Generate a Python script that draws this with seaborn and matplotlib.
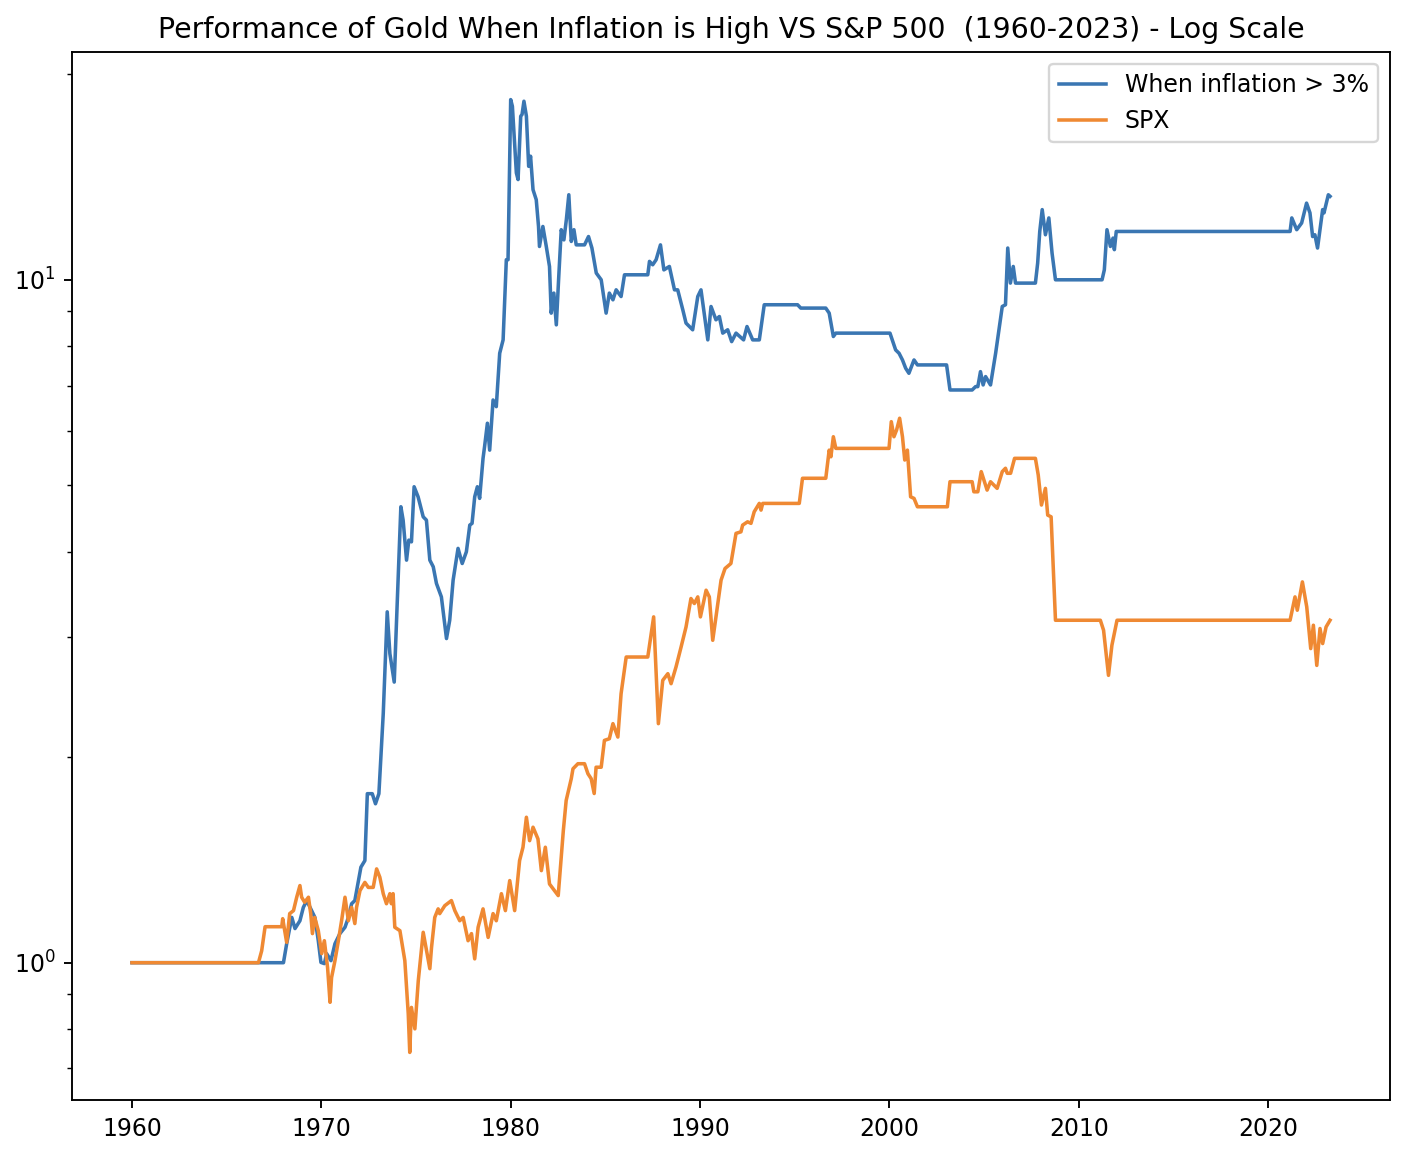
import pandas as pd
import seaborn as sns
import matplotlib.pyplot as plt

# values (year as decimal, growth of 1 unit)
gold_years = [1960.00, 1968.00, 1968.17, 1968.44, 1968.61, 1968.87, 1969.05, 1969.23, 1969.49, 1969.66,
              1969.84, 1969.98, 1970.16, 1970.28, 1970.51, 1970.72, 1970.98, 1971.25, 1971.43, 1971.60,
              1971.77, 1972.09, 1972.30, 1972.43, 1972.69, 1972.86, 1973.04, 1973.27, 1973.48, 1973.62,
              1973.85, 1974.20, 1974.32, 1974.50, 1974.62, 1974.76, 1974.90, 1975.11, 1975.38, 1975.55,
              1975.73, 1975.91, 1976.08, 1976.34, 1976.61, 1976.78, 1976.96, 1977.22, 1977.44, 1977.66,
              1977.84, 1977.96, 1978.10, 1978.24, 1978.36, 1978.54, 1978.62, 1978.77, 1978.89, 1979.07,
              1979.24, 1979.42, 1979.60, 1979.77, 1979.86, 1980.00, 1980.09, 1980.30, 1980.39, 1980.53,
              1980.60, 1980.70, 1980.83, 1980.95, 1981.05, 1981.18, 1981.35, 1981.47, 1981.52, 1981.70,
              1981.88, 1982.05, 1982.14, 1982.28, 1982.41, 1982.53, 1982.67, 1982.81, 1982.94, 1983.07,
              1983.20, 1983.34, 1983.46, 1983.90, 1984.11, 1984.29, 1984.52, 1984.78, 1985.04, 1985.21,
              1985.40, 1985.57, 1985.83, 1986.01, 1987.24, 1987.33, 1987.50, 1987.68, 1987.91, 1988.09,
              1988.38, 1988.65, 1988.82, 1989.09, 1989.26, 1989.61, 1989.88, 1990.05, 1990.41, 1990.58,
              1990.84, 1991.02, 1991.20, 1991.46, 1991.67, 1991.90, 1992.30, 1992.48, 1992.78, 1993.13,
              1993.39, 1995.15, 1995.32, 1996.64, 1996.82, 1997.04, 1997.17, 2000.03, 2000.33, 2000.51,
              2000.69, 2000.86, 2001.03, 2001.30, 2001.48, 2003.02, 2003.20, 2004.37, 2004.55, 2004.67,
              2004.81, 2004.95, 2005.08, 2005.34, 2005.61, 2005.96, 2006.13, 2006.25, 2006.39, 2006.54,
              2006.66, 2007.71, 2007.83, 2007.94, 2008.07, 2008.24, 2008.42, 2008.59, 2008.77, 2011.23,
              2011.35, 2011.49, 2011.67, 2011.81, 2011.88, 2011.98, 2021.16, 2021.25, 2021.51, 2021.77,
              2022.03, 2022.21, 2022.35, 2022.47, 2022.61, 2022.88, 2022.95, 2023.18, 2023.27]
gold_values = [1.00, 1.00, 1.066, 1.165, 1.122, 1.152, 1.205, 1.233, 1.192, 1.165,
               1.077, 1.001, 0.997, 1.031, 1.007, 1.066, 1.103, 1.127, 1.165, 1.220,
               1.233, 1.380, 1.411, 1.768, 1.768, 1.709, 1.768, 2.316, 3.264, 2.835,
               2.576, 4.652, 4.447, 3.886, 4.157, 4.133, 4.977, 4.811, 4.497, 4.447,
               3.886, 3.800, 3.592, 3.433, 2.983, 3.173, 3.632, 4.043, 3.842, 3.997,
               4.373, 4.399, 4.811, 4.977, 4.785, 5.477, 5.695, 6.165, 5.631, 6.668,
               6.520, 7.806, 8.166, 10.70, 10.70, 18.36, 17.95, 14.34, 14.02, 17.36,
               17.46, 18.26, 17.36, 14.66, 15.17, 13.55, 13.10, 11.97, 11.19, 11.97,
               11.19, 10.46, 8.937, 9.561, 8.591, 10.00, 11.84, 11.44, 12.25, 13.32,
               11.38, 11.84, 11.25, 11.25, 11.57, 11.13, 10.23, 10.00, 8.937, 9.561,
               9.348, 9.667, 9.452, 10.17, 10.17, 10.64, 10.52, 10.70, 11.25, 10.34,
               10.46, 9.667, 9.667, 9.036, 8.641, 8.449, 9.452, 9.667, 8.166, 9.139,
               8.738, 8.836, 8.354, 8.449, 8.119, 8.354, 8.166, 8.542, 8.166, 8.166,
               9.193, 9.193, 9.090, 9.090, 8.937, 8.260, 8.354, 8.354, 7.894, 7.806,
               7.632, 7.421, 7.297, 7.632, 7.505, 7.505, 6.897, 6.897, 6.975, 6.975,
               7.337, 7.015, 7.215, 7.015, 7.806, 9.139, 9.193, 11.13, 9.889, 10.46,
               9.889, 9.889, 10.58, 11.77, 12.67, 11.64, 12.32, 10.94, 10.00, 10.00,
               10.34, 11.84, 11.19, 11.51, 11.07, 11.77, 11.77, 12.32, 11.84, 12.11,
               12.95, 12.53, 11.57, 11.64, 11.13, 12.67, 12.53, 13.32, 13.25]

spx_years = [1960.00, 1966.68, 1966.85, 1967.03, 1967.91, 1967.96, 1968.17, 1968.33, 1968.53, 1968.70,
             1968.87, 1968.96, 1969.12, 1969.32, 1969.44, 1969.53, 1969.65, 1969.84, 1970.02, 1970.16,
             1970.33, 1970.46, 1970.54, 1970.72, 1970.90, 1971.07, 1971.25, 1971.43, 1971.60, 1971.77,
             1971.86, 1972.04, 1972.30, 1972.48, 1972.74, 1972.92, 1973.09, 1973.27, 1973.44, 1973.62,
             1973.70, 1973.79, 1973.88, 1974.15, 1974.41, 1974.59, 1974.67, 1974.76, 1974.94, 1975.12,
             1975.38, 1975.73, 1975.82, 1975.99, 1976.17, 1976.25, 1976.52, 1976.87, 1977.05, 1977.31,
             1977.49, 1977.75, 1977.93, 1978.10, 1978.28, 1978.54, 1978.81, 1979.07, 1979.24, 1979.51,
             1979.72, 1979.95, 1980.21, 1980.47, 1980.65, 1980.83, 1981.00, 1981.18, 1981.44, 1981.62,
             1981.83, 1982.05, 1982.51, 1982.78, 1982.93, 1983.20, 1983.29, 1983.55, 1983.90, 1984.08,
             1984.25, 1984.41, 1984.51, 1984.78, 1984.95, 1985.21, 1985.40, 1985.66, 1985.83, 1986.10,
             1987.24, 1987.55, 1987.80, 1988.03, 1988.30, 1988.47, 1988.73, 1989.00, 1989.26, 1989.52,
             1989.70, 1989.88, 1990.02, 1990.32, 1990.49, 1990.67, 1991.11, 1991.32, 1991.63, 1991.90,
             1992.16, 1992.25, 1992.51, 1992.69, 1992.86, 1993.13, 1993.22, 1993.31, 1995.24, 1995.41,
             1996.64, 1996.82, 1996.91, 1997.04, 1997.17, 1999.98, 2000.10, 2000.24, 2000.38, 2000.54,
             2000.69, 2000.81, 2000.95, 2001.12, 2001.30, 2001.48, 2003.06, 2003.20, 2004.37, 2004.46,
             2004.67, 2004.85, 2005.16, 2005.34, 2005.69, 2005.96, 2006.13, 2006.22, 2006.40, 2006.61,
             2007.71, 2007.86, 2008.03, 2008.24, 2008.36, 2008.54, 2008.77, 2011.14, 2011.31, 2011.57,
             2011.75, 2012.02, 2021.16, 2021.42, 2021.54, 2021.81, 2022.04, 2022.25, 2022.39, 2022.57,
             2022.74, 2022.88, 2023.06, 2023.27]
spx_values = [1.00, 1.00, 1.041, 1.129, 1.129, 1.160, 1.071, 1.180, 1.192, 1.247,
              1.297, 1.247, 1.226, 1.247, 1.180, 1.103, 1.165, 1.114, 1.031, 1.077,
              0.984, 0.875, 0.951, 1.007, 1.077, 1.152, 1.247, 1.152, 1.205, 1.141,
              1.205, 1.275, 1.311, 1.289, 1.289, 1.372, 1.334, 1.262, 1.220, 1.262,
              1.220, 1.262, 1.127, 1.114, 1.007, 0.842, 0.739, 0.860, 0.800, 0.941,
              1.108, 0.980, 1.053, 1.165, 1.199, 1.180, 1.212, 1.233, 1.192, 1.152,
              1.165, 1.077, 1.103, 1.013, 1.127, 1.199, 1.089, 1.180, 1.152, 1.262,
              1.192, 1.319, 1.192, 1.411, 1.476, 1.633, 1.509, 1.579, 1.518, 1.364,
              1.476, 1.304, 1.254, 1.561, 1.728, 1.860, 1.923, 1.956, 1.956, 1.891,
              1.860, 1.769, 1.933, 1.933, 2.116, 2.128, 2.239, 2.140, 2.477, 2.803,
              2.803, 3.209, 2.239, 2.591, 2.650, 2.562, 2.710, 2.900, 3.102, 3.414,
              3.357, 3.433, 3.209, 3.511, 3.433, 2.966, 3.632, 3.778, 3.842, 4.253,
              4.275, 4.373, 4.422, 4.399, 4.574, 4.705, 4.600, 4.705, 4.705, 5.121,
              5.121, 5.631, 5.506, 5.891, 5.664, 5.664, 6.198, 5.891, 6.027, 6.270,
              5.891, 5.446, 5.631, 4.811, 4.785, 4.652, 4.652, 5.062, 5.062, 4.893,
              4.893, 5.237, 4.921, 5.062, 4.950, 5.237, 5.297, 5.208, 5.208, 5.477,
              5.477, 5.178, 4.679, 4.950, 4.523, 4.497, 3.173, 3.173, 3.068, 2.635,
              2.916, 3.173, 3.173, 3.433, 3.282, 3.611, 3.319, 2.884, 3.120, 2.725,
              3.086, 2.933, 3.102, 3.173]

gold = pd.DataFrame({'year': gold_years, 'value': gold_values})
spx = pd.DataFrame({'year': spx_years, 'value': spx_values})

fig, ax = plt.subplots(figsize=(1402 / 170, 1152 / 170), dpi=170)
sns.lineplot(x='year', y='value', data=gold, label='When inflation > 3%', color='#3a76b2', estimator=None, ax=ax)
sns.lineplot(x='year', y='value', data=spx, label='SPX', color='#ef8933', estimator=None, ax=ax)
ax.set_yscale('log')
ax.set_xlabel('')
ax.set_ylabel('')
ax.set_title('Performance of Gold When Inflation is High VS S&P 500  (1960-2023) - Log Scale')
ax.legend(loc='upper right')
fig.subplots_adjust(left=0.0514, right=0.9914, bottom=0.0451, top=0.9549)
plt.savefig('out.png', dpi=170)
